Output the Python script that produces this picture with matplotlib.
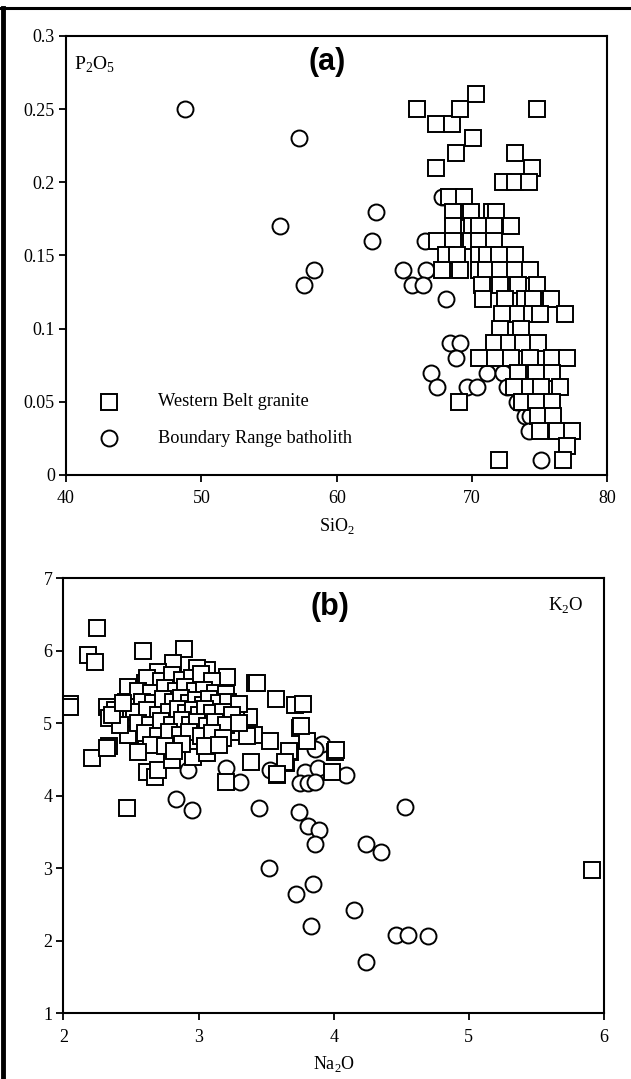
import matplotlib
matplotlib.use("Agg")
import matplotlib.pyplot as plt
from matplotlib.lines import Line2D

plt.rcParams["font.family"] = ["Liberation Serif", "DejaVu Serif"]
plt.rcParams["mathtext.fontset"] = "custom"
plt.rcParams["mathtext.rm"] = "Liberation Serif"

# ---- panel (a): SiO2 vs P2O5 ----
wb_sio2 = [65.9, 67.3, 68.5, 69.1, 70.3, 74.8, 70.1, 68.8, 67.3, 73.2, 74.4,
           72.3, 73.2, 74.2,
           68.3, 69.4,
           68.6, 69.9, 71.5, 71.8,
           68.6, 70.0, 70.5, 71.6, 72.9,
           67.4, 68.6, 69.9, 70.5, 71.6,
           68.1, 68.9, 70.5, 71.1, 72.0, 73.2,
           67.8, 69.1, 70.5, 71.0, 72.1, 73.2, 74.3,
           70.7, 72.1, 73.4, 74.8,
           70.8, 72.4, 73.9, 74.5, 75.8,
           72.2, 73.4, 74.4, 75.0, 76.9,
           72.1, 73.6,
           71.6, 72.7, 73.8, 74.9,
           70.5, 71.7, 72.9, 74.3, 75.9, 77.0,
           73.4, 74.7, 75.9,
           73.1, 74.3, 75.1, 76.5,
           69.0, 73.7, 74.7, 75.9,
           74.9, 76.0,
           75.0, 76.3, 77.4,
           77.0,
           72.0, 76.7]
wb_p2o5 = [0.25, 0.24, 0.24, 0.25, 0.26, 0.25, 0.23, 0.22, 0.21, 0.22, 0.21,
           0.20, 0.20, 0.20,
           0.19, 0.19,
           0.18, 0.18, 0.18, 0.18,
           0.17, 0.17, 0.17, 0.17, 0.17,
           0.16, 0.16, 0.16, 0.16, 0.16,
           0.15, 0.15, 0.15, 0.15, 0.15, 0.15,
           0.14, 0.14, 0.14, 0.14, 0.14, 0.14, 0.14,
           0.13, 0.13, 0.13, 0.13,
           0.12, 0.12, 0.12, 0.12, 0.12,
           0.11, 0.11, 0.11, 0.11, 0.11,
           0.10, 0.10,
           0.09, 0.09, 0.09, 0.09,
           0.08, 0.08, 0.08, 0.08, 0.08, 0.08,
           0.07, 0.07, 0.07,
           0.06, 0.06, 0.06, 0.06,
           0.05, 0.05, 0.05, 0.05,
           0.04, 0.04,
           0.03, 0.03, 0.03,
           0.02,
           0.01, 0.01]

br_sio2 = [48.8, 57.2, 55.8, 57.6, 58.3, 62.6, 62.9, 67.8, 66.5, 64.9, 66.6,
           65.6, 66.4, 68.1, 68.4, 69.1, 68.8, 67.0, 71.1, 72.3, 67.4, 69.6,
           70.4, 72.6, 73.3, 73.9, 74.3, 74.2, 75.1]
br_p2o5 = [0.25, 0.23, 0.17, 0.13, 0.14, 0.16, 0.18, 0.19, 0.16, 0.14, 0.14,
           0.13, 0.13, 0.12, 0.09, 0.09, 0.08, 0.07, 0.07, 0.07, 0.06, 0.06,
           0.06, 0.06, 0.05, 0.04, 0.04, 0.03, 0.01]

# ---- panel (b): Na2O vs K2O ----
wb_na2o = [2.25, 2.18, 2.23, 2.59, 2.89, 2.05, 2.05, 3.21, 3.42, 3.57, 3.71,
           2.81, 2.70, 3.06, 2.99, 2.60, 2.48, 2.32, 2.46, 2.34, 2.46, 2.57,
           2.49, 3.37, 3.28, 3.41, 3.53,
           2.21, 2.47, 2.34, 2.32, 2.48, 2.62, 2.68, 2.70, 2.80, 2.96, 2.96,
           3.06, 3.20, 3.39, 3.58, 3.65, 3.68, 3.75, 3.80, 4.01, 3.99, 3.27,
           3.36, 3.76, 3.43, 3.77, 3.67, 4.02, 3.64, 3.58,
           2.62, 2.72, 2.80, 2.88, 2.95, 3.02, 3.10,
           2.55, 2.65, 2.75, 2.83, 2.90, 2.97, 3.04, 3.12, 3.20,
           2.58, 2.66, 2.74, 2.81, 2.87, 2.93, 2.98, 3.03, 3.08, 3.15, 3.22, 3.30,
           2.52, 2.62, 2.70, 2.78, 2.85, 2.91, 2.96, 3.00, 3.05, 3.10, 3.18, 3.25,
           2.55, 2.64, 2.72, 2.80, 2.88, 2.94, 2.99, 3.06, 3.12, 3.20, 3.30,
           2.60, 2.70, 2.78, 2.86, 2.93, 3.02, 3.10, 3.18,
           2.65, 2.75, 2.88, 3.05, 3.15, 2.55, 2.82,
           2.38, 2.42, 2.36, 2.44,
           5.91]
wb_k2o = [6.32, 5.94, 5.85, 5.99, 6.02, 5.27, 5.22, 5.64, 5.55, 5.33, 5.25,
          5.83, 5.71, 5.74, 5.76, 5.55, 5.50, 5.23, 5.30, 5.07, 5.07, 5.09,
          4.84, 5.09, 5.23, 4.84, 4.75,
          4.52, 3.83, 4.68, 4.66, 4.84, 4.33, 4.26, 4.36, 4.49, 4.72, 4.54,
          4.59, 4.19, 4.47, 4.29, 4.45, 4.61, 4.93, 4.75, 4.61, 4.33, 4.88,
          4.82, 4.96, 5.56, 5.27, 4.62, 4.63, 4.46, 4.30,
          5.62, 5.58, 5.66, 5.60, 5.62, 5.68, 5.58,
          5.45, 5.42, 5.48, 5.45, 5.50, 5.44, 5.46, 5.42, 5.40,
          5.30, 5.28, 5.33, 5.30, 5.35, 5.28, 5.32, 5.25, 5.33, 5.28, 5.30, 5.26,
          5.15, 5.18, 5.12, 5.16, 5.20, 5.14, 5.18, 5.12, 5.20, 5.14, 5.16, 5.12,
          5.00, 4.98, 5.03, 4.98, 5.04, 4.97, 5.02, 4.96, 5.02, 4.98, 5.00,
          4.86, 4.82, 4.88, 4.84, 4.88, 4.82, 4.86, 4.80,
          4.70, 4.68, 4.72, 4.68, 4.70, 4.60, 4.62,
          5.18, 4.98, 5.12, 5.28,
          2.98]

br_na2o = [2.83, 2.95, 2.92, 3.20, 3.31, 3.45, 3.53, 3.74, 3.81, 3.89, 3.86,
           4.24, 4.35, 3.52, 3.85, 3.72, 3.79, 3.88, 3.75, 3.81, 3.86, 4.09,
           3.91, 3.86, 4.53, 4.15, 3.83, 4.46, 4.55, 4.70, 4.24]
br_k2o = [3.95, 3.80, 4.36, 4.38, 4.19, 3.83, 4.36, 3.78, 3.58, 3.53, 3.33,
          3.34, 3.23, 3.01, 2.78, 2.65, 4.33, 4.38, 4.17, 4.17, 4.19, 4.29,
          4.72, 4.65, 3.84, 2.43, 2.21, 2.08, 2.08, 2.06, 1.71]

fig = plt.figure(figsize=(6.31, 10.79), dpi=100)
ax1 = fig.add_axes([0.1046, 0.5598, 0.858, 0.4069])
ax2 = fig.add_axes([0.1006, 0.0609, 0.8566, 0.4032])

mk = dict(linestyle="none", markersize=11.5, markerfacecolor="white",
          markeredgecolor="black", markeredgewidth=1.4)

ax1.plot(br_sio2, br_p2o5, marker="o", **mk)
ax1.plot(wb_sio2, wb_p2o5, marker="s", **mk)
ax2.plot(br_na2o, br_k2o, marker="o", **mk)
ax2.plot(wb_na2o, wb_k2o, marker="s", **mk)

for ax in (ax1, ax2):
    for s in ax.spines.values():
        s.set_linewidth(1.5)
    ax.tick_params(direction="out", length=5, width=1.3, labelsize=13,
                   top=False, right=False)
    ax.tick_params(axis="x", pad=6)
    ax.tick_params(axis="y", pad=3)

ax1.set_xlim(40, 80)
ax1.set_ylim(0, 0.3)
ax1.set_xticks([40, 50, 60, 70, 80])
ax1.set_yticks([0, 0.05, 0.1, 0.15, 0.2, 0.25, 0.3])
ax1.set_yticklabels(["0", "0.05", "0.1", "0.15", "0.2", "0.25", "0.3"])
ax1.set_xlabel(r"SiO$_\mathregular{2}$", fontsize=13, labelpad=6)
ax1.text(40.6, 0.28, r"P$_\mathregular{2}$O$_\mathregular{5}$", fontsize=14,
         ha="left", va="center")
ax1.text(59.3, 0.282, "(a)", fontsize=22, fontweight="bold",
         family="Liberation Sans", ha="center", va="center")

# legend drawn by hand like the original
ax1.plot([43.2], [0.05], marker="s", **mk)
ax1.plot([43.2], [0.025], marker="o", **mk)
ax1.text(46.8, 0.05, "Western Belt granite", fontsize=13.2, va="center")
ax1.text(46.8, 0.025, "Boundary Range batholith", fontsize=13.2, va="center")

ax2.set_xlim(2, 6)
ax2.set_ylim(1, 7)
ax2.set_xticks([2, 3, 4, 5, 6])
ax2.set_yticks([1, 2, 3, 4, 5, 6, 7])
ax2.set_xlabel(r"Na$_\mathregular{2}$O", fontsize=13, labelpad=6)
ax2.text(5.85, 6.62, r"K$_\mathregular{2}$O", fontsize=13.5, ha="right", va="center")
ax2.text(3.97, 6.6, "(b)", fontsize=22, fontweight="bold",
         family="Liberation Sans", ha="center", va="center")

# scanned page border (left and top)
fig.add_artist(Line2D([0.004, 0.004], [0, 0.993], transform=fig.transFigure,
                      color="black", linewidth=3.5))
fig.add_artist(Line2D([0, 1], [0.993, 0.993], transform=fig.transFigure,
                      color="black", linewidth=2.2))

fig.savefig("out.png", dpi=100)
